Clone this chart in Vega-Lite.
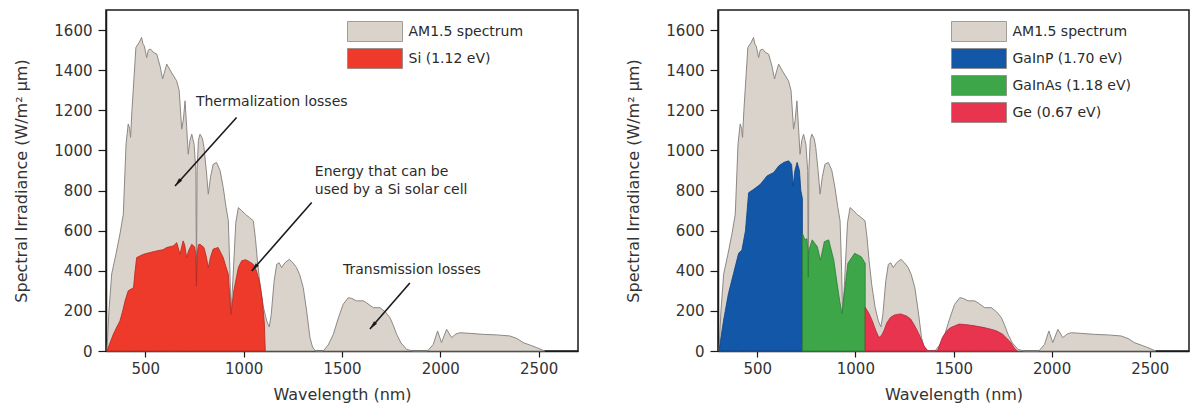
{
  "$schema": "https://vega.github.io/schema/vega-lite/v6.json",
  "padding": {"left": 13, "top": 9, "right": 0, "bottom": 3},
  "background": "white",
  "spacing": 46,
  "datasets": {
    "am15": [
      {"s":"AM1.5 spectrum","nm":305,"v":0},{"s":"AM1.5 spectrum","nm":315,"v":200},{"s":"AM1.5 spectrum","nm":329,"v":384},{"s":"AM1.5 spectrum","nm":350,"v":480},{"s":"AM1.5 spectrum","nm":371,"v":583},{"s":"AM1.5 spectrum","nm":388,"v":682},{"s":"AM1.5 spectrum","nm":402,"v":1032},{"s":"AM1.5 spectrum","nm":413,"v":1132},{"s":"AM1.5 spectrum","nm":420,"v":1110},{"s":"AM1.5 spectrum","nm":425,"v":1065},{"s":"AM1.5 spectrum","nm":432,"v":1200},{"s":"AM1.5 spectrum","nm":452,"v":1513},{"s":"AM1.5 spectrum","nm":470,"v":1540},{"s":"AM1.5 spectrum","nm":481,"v":1563},{"s":"AM1.5 spectrum","nm":488,"v":1530},{"s":"AM1.5 spectrum","nm":495,"v":1520},{"s":"AM1.5 spectrum","nm":507,"v":1463},{"s":"AM1.5 spectrum","nm":515,"v":1500},{"s":"AM1.5 spectrum","nm":527,"v":1505},{"s":"AM1.5 spectrum","nm":540,"v":1490},{"s":"AM1.5 spectrum","nm":558,"v":1480},{"s":"AM1.5 spectrum","nm":575,"v":1420},{"s":"AM1.5 spectrum","nm":588,"v":1356},{"s":"AM1.5 spectrum","nm":600,"v":1400},{"s":"AM1.5 spectrum","nm":609,"v":1430},{"s":"AM1.5 spectrum","nm":632,"v":1390},{"s":"AM1.5 spectrum","nm":659,"v":1347},{"s":"AM1.5 spectrum","nm":672,"v":1300},{"s":"AM1.5 spectrum","nm":685,"v":1106},{"s":"AM1.5 spectrum","nm":693,"v":1150},{"s":"AM1.5 spectrum","nm":702,"v":1247},{"s":"AM1.5 spectrum","nm":710,"v":1120},{"s":"AM1.5 spectrum","nm":718,"v":981},{"s":"AM1.5 spectrum","nm":727,"v":1050},{"s":"AM1.5 spectrum","nm":736,"v":1081},{"s":"AM1.5 spectrum","nm":748,"v":1030},{"s":"AM1.5 spectrum","nm":757,"v":900},{"s":"AM1.5 spectrum","nm":760,"v":320},{"s":"AM1.5 spectrum","nm":763,"v":900},{"s":"AM1.5 spectrum","nm":770,"v":1050},{"s":"AM1.5 spectrum","nm":778,"v":1081},{"s":"AM1.5 spectrum","nm":790,"v":1060},{"s":"AM1.5 spectrum","nm":798,"v":1015},{"s":"AM1.5 spectrum","nm":810,"v":900},{"s":"AM1.5 spectrum","nm":820,"v":782},{"s":"AM1.5 spectrum","nm":832,"v":870},{"s":"AM1.5 spectrum","nm":845,"v":931},{"s":"AM1.5 spectrum","nm":862,"v":940},{"s":"AM1.5 spectrum","nm":880,"v":900},{"s":"AM1.5 spectrum","nm":896,"v":815},{"s":"AM1.5 spectrum","nm":910,"v":720},{"s":"AM1.5 spectrum","nm":922,"v":649},{"s":"AM1.5 spectrum","nm":930,"v":400},{"s":"AM1.5 spectrum","nm":935,"v":183},{"s":"AM1.5 spectrum","nm":945,"v":350},{"s":"AM1.5 spectrum","nm":960,"v":640},{"s":"AM1.5 spectrum","nm":973,"v":715},{"s":"AM1.5 spectrum","nm":990,"v":700},{"s":"AM1.5 spectrum","nm":1010,"v":680},{"s":"AM1.5 spectrum","nm":1030,"v":665},{"s":"AM1.5 spectrum","nm":1049,"v":649},{"s":"AM1.5 spectrum","nm":1060,"v":560},{"s":"AM1.5 spectrum","nm":1070,"v":450},{"s":"AM1.5 spectrum","nm":1083,"v":333},{"s":"AM1.5 spectrum","nm":1100,"v":220},{"s":"AM1.5 spectrum","nm":1117,"v":150},{"s":"AM1.5 spectrum","nm":1130,"v":120},{"s":"AM1.5 spectrum","nm":1140,"v":180},{"s":"AM1.5 spectrum","nm":1155,"v":350},{"s":"AM1.5 spectrum","nm":1168,"v":432},{"s":"AM1.5 spectrum","nm":1180,"v":440},{"s":"AM1.5 spectrum","nm":1193,"v":416},{"s":"AM1.5 spectrum","nm":1210,"v":440},{"s":"AM1.5 spectrum","nm":1232,"v":457},{"s":"AM1.5 spectrum","nm":1250,"v":440},{"s":"AM1.5 spectrum","nm":1269,"v":416},{"s":"AM1.5 spectrum","nm":1285,"v":380},{"s":"AM1.5 spectrum","nm":1303,"v":316},{"s":"AM1.5 spectrum","nm":1320,"v":200},{"s":"AM1.5 spectrum","nm":1337,"v":67},{"s":"AM1.5 spectrum","nm":1350,"v":20},{"s":"AM1.5 spectrum","nm":1365,"v":0},{"s":"AM1.5 spectrum","nm":1405,"v":0},{"s":"AM1.5 spectrum","nm":1430,"v":30},{"s":"AM1.5 spectrum","nm":1456,"v":83},{"s":"AM1.5 spectrum","nm":1480,"v":160},{"s":"AM1.5 spectrum","nm":1506,"v":233},{"s":"AM1.5 spectrum","nm":1532,"v":266},{"s":"AM1.5 spectrum","nm":1550,"v":262},{"s":"AM1.5 spectrum","nm":1574,"v":250},{"s":"AM1.5 spectrum","nm":1608,"v":250},{"s":"AM1.5 spectrum","nm":1625,"v":240},{"s":"AM1.5 spectrum","nm":1659,"v":216},{"s":"AM1.5 spectrum","nm":1693,"v":216},{"s":"AM1.5 spectrum","nm":1720,"v":195},{"s":"AM1.5 spectrum","nm":1744,"v":166},{"s":"AM1.5 spectrum","nm":1760,"v":130},{"s":"AM1.5 spectrum","nm":1778,"v":83},{"s":"AM1.5 spectrum","nm":1800,"v":40},{"s":"AM1.5 spectrum","nm":1829,"v":8},{"s":"AM1.5 spectrum","nm":1860,"v":0},{"s":"AM1.5 spectrum","nm":1935,"v":0},{"s":"AM1.5 spectrum","nm":1964,"v":33},{"s":"AM1.5 spectrum","nm":1986,"v":100},{"s":"AM1.5 spectrum","nm":2006,"v":42},{"s":"AM1.5 spectrum","nm":2032,"v":108},{"s":"AM1.5 spectrum","nm":2057,"v":67},{"s":"AM1.5 spectrum","nm":2080,"v":85},{"s":"AM1.5 spectrum","nm":2100,"v":91},{"s":"AM1.5 spectrum","nm":2150,"v":88},{"s":"AM1.5 spectrum","nm":2218,"v":83},{"s":"AM1.5 spectrum","nm":2290,"v":80},{"s":"AM1.5 spectrum","nm":2354,"v":75},{"s":"AM1.5 spectrum","nm":2390,"v":62},{"s":"AM1.5 spectrum","nm":2421,"v":42},{"s":"AM1.5 spectrum","nm":2460,"v":28},{"s":"AM1.5 spectrum","nm":2490,"v":17},{"s":"AM1.5 spectrum","nm":2530,"v":0}
    ],
    "si": [
      {"s":"Si (1.12 eV)","nm":305,"v":0},{"s":"Si (1.12 eV)","nm":320,"v":40},{"s":"Si (1.12 eV)","nm":337,"v":83},{"s":"Si (1.12 eV)","nm":355,"v":120},{"s":"Si (1.12 eV)","nm":371,"v":150},{"s":"Si (1.12 eV)","nm":385,"v":200},{"s":"Si (1.12 eV)","nm":397,"v":250},{"s":"Si (1.12 eV)","nm":413,"v":300},{"s":"Si (1.12 eV)","nm":430,"v":310},{"s":"Si (1.12 eV)","nm":440,"v":316},{"s":"Si (1.12 eV)","nm":448,"v":400},{"s":"Si (1.12 eV)","nm":456,"v":466},{"s":"Si (1.12 eV)","nm":490,"v":482},{"s":"Si (1.12 eV)","nm":520,"v":490},{"s":"Si (1.12 eV)","nm":558,"v":499},{"s":"Si (1.12 eV)","nm":590,"v":505},{"s":"Si (1.12 eV)","nm":609,"v":516},{"s":"Si (1.12 eV)","nm":642,"v":524},{"s":"Si (1.12 eV)","nm":660,"v":540},{"s":"Si (1.12 eV)","nm":676,"v":482},{"s":"Si (1.12 eV)","nm":692,"v":549},{"s":"Si (1.12 eV)","nm":700,"v":530},{"s":"Si (1.12 eV)","nm":710,"v":466},{"s":"Si (1.12 eV)","nm":720,"v":500},{"s":"Si (1.12 eV)","nm":736,"v":532},{"s":"Si (1.12 eV)","nm":750,"v":520},{"s":"Si (1.12 eV)","nm":757,"v":480},{"s":"Si (1.12 eV)","nm":760,"v":324},{"s":"Si (1.12 eV)","nm":763,"v":480},{"s":"Si (1.12 eV)","nm":770,"v":530},{"s":"Si (1.12 eV)","nm":778,"v":532},{"s":"Si (1.12 eV)","nm":798,"v":516},{"s":"Si (1.12 eV)","nm":810,"v":470},{"s":"Si (1.12 eV)","nm":820,"v":416},{"s":"Si (1.12 eV)","nm":832,"v":470},{"s":"Si (1.12 eV)","nm":845,"v":508},{"s":"Si (1.12 eV)","nm":870,"v":516},{"s":"Si (1.12 eV)","nm":896,"v":466},{"s":"Si (1.12 eV)","nm":910,"v":420},{"s":"Si (1.12 eV)","nm":922,"v":383},{"s":"Si (1.12 eV)","nm":935,"v":183},{"s":"Si (1.12 eV)","nm":950,"v":300},{"s":"Si (1.12 eV)","nm":973,"v":416},{"s":"Si (1.12 eV)","nm":990,"v":450},{"s":"Si (1.12 eV)","nm":1010,"v":455},{"s":"Si (1.12 eV)","nm":1030,"v":445},{"s":"Si (1.12 eV)","nm":1049,"v":432},{"s":"Si (1.12 eV)","nm":1065,"v":400},{"s":"Si (1.12 eV)","nm":1083,"v":333},{"s":"Si (1.12 eV)","nm":1095,"v":250},{"s":"Si (1.12 eV)","nm":1105,"v":140},{"s":"Si (1.12 eV)","nm":1110,"v":0}
    ],
    "mj": [
      {"s":"GaInP (1.70 eV)","nm":305,"v":0},{"s":"GaInP (1.70 eV)","nm":328,"v":151},{"s":"GaInP (1.70 eV)","nm":353,"v":285},{"s":"GaInP (1.70 eV)","nm":379,"v":386},{"s":"GaInP (1.70 eV)","nm":405,"v":487},{"s":"GaInP (1.70 eV)","nm":422,"v":504},{"s":"GaInP (1.70 eV)","nm":440,"v":600},{"s":"GaInP (1.70 eV)","nm":456,"v":789},{"s":"GaInP (1.70 eV)","nm":482,"v":806},{"s":"GaInP (1.70 eV)","nm":516,"v":831},{"s":"GaInP (1.70 eV)","nm":550,"v":873},{"s":"GaInP (1.70 eV)","nm":584,"v":890},{"s":"GaInP (1.70 eV)","nm":610,"v":923},{"s":"GaInP (1.70 eV)","nm":635,"v":940},{"s":"GaInP (1.70 eV)","nm":660,"v":948},{"s":"GaInP (1.70 eV)","nm":675,"v":930},{"s":"GaInP (1.70 eV)","nm":683,"v":822},{"s":"GaInP (1.70 eV)","nm":692,"v":900},{"s":"GaInP (1.70 eV)","nm":703,"v":940},{"s":"GaInP (1.70 eV)","nm":715,"v":900},{"s":"GaInP (1.70 eV)","nm":722,"v":800},{"s":"GaInP (1.70 eV)","nm":730,"v":760},
      {"s":"GaInAs (1.18 eV)","nm":730,"v":587},{"s":"GaInAs (1.18 eV)","nm":743,"v":554},{"s":"GaInAs (1.18 eV)","nm":753,"v":560},{"s":"GaInAs (1.18 eV)","nm":758,"v":500},{"s":"GaInAs (1.18 eV)","nm":760,"v":369},{"s":"GaInAs (1.18 eV)","nm":762,"v":500},{"s":"GaInAs (1.18 eV)","nm":780,"v":554},{"s":"GaInAs (1.18 eV)","nm":806,"v":520},{"s":"GaInAs (1.18 eV)","nm":822,"v":453},{"s":"GaInAs (1.18 eV)","nm":842,"v":545},{"s":"GaInAs (1.18 eV)","nm":864,"v":554},{"s":"GaInAs (1.18 eV)","nm":890,"v":453},{"s":"GaInAs (1.18 eV)","nm":907,"v":336},{"s":"GaInAs (1.18 eV)","nm":920,"v":250},{"s":"GaInAs (1.18 eV)","nm":932,"v":185},{"s":"GaInAs (1.18 eV)","nm":945,"v":300},{"s":"GaInAs (1.18 eV)","nm":962,"v":437},{"s":"GaInAs (1.18 eV)","nm":996,"v":487},{"s":"GaInAs (1.18 eV)","nm":1030,"v":470},{"s":"GaInAs (1.18 eV)","nm":1050,"v":437},
      {"s":"Ge (0.67 eV)","nm":1050,"v":218},{"s":"Ge (0.67 eV)","nm":1068,"v":190},{"s":"Ge (0.67 eV)","nm":1086,"v":151},{"s":"Ge (0.67 eV)","nm":1105,"v":100},{"s":"Ge (0.67 eV)","nm":1120,"v":67},{"s":"Ge (0.67 eV)","nm":1135,"v":80},{"s":"Ge (0.67 eV)","nm":1145,"v":100},{"s":"Ge (0.67 eV)","nm":1160,"v":140},{"s":"Ge (0.67 eV)","nm":1179,"v":168},{"s":"Ge (0.67 eV)","nm":1200,"v":180},{"s":"Ge (0.67 eV)","nm":1230,"v":185},{"s":"Ge (0.67 eV)","nm":1260,"v":175},{"s":"Ge (0.67 eV)","nm":1282,"v":159},{"s":"Ge (0.67 eV)","nm":1300,"v":130},{"s":"Ge (0.67 eV)","nm":1316,"v":101},{"s":"Ge (0.67 eV)","nm":1335,"v":60},{"s":"Ge (0.67 eV)","nm":1350,"v":25},{"s":"Ge (0.67 eV)","nm":1370,"v":0},{"s":"Ge (0.67 eV)","nm":1418,"v":0},{"s":"Ge (0.67 eV)","nm":1443,"v":67},{"s":"Ge (0.67 eV)","nm":1465,"v":100},{"s":"Ge (0.67 eV)","nm":1486,"v":117},{"s":"Ge (0.67 eV)","nm":1528,"v":134},{"s":"Ge (0.67 eV)","nm":1560,"v":132},{"s":"Ge (0.67 eV)","nm":1605,"v":126},{"s":"Ge (0.67 eV)","nm":1650,"v":118},{"s":"Ge (0.67 eV)","nm":1690,"v":109},{"s":"Ge (0.67 eV)","nm":1720,"v":100},{"s":"Ge (0.67 eV)","nm":1750,"v":84},{"s":"Ge (0.67 eV)","nm":1770,"v":65},{"s":"Ge (0.67 eV)","nm":1792,"v":42},{"s":"Ge (0.67 eV)","nm":1810,"v":15},{"s":"Ge (0.67 eV)","nm":1825,"v":0}
    ],
    "notes": [
      {"t":"Thermalization losses","nm":757,"v":1277},
      {"t":"Energy that can be\nused by a Si solar cell","nm":1362,"v":928},
      {"t":"Transmission losses","nm":1505,"v":439}
    ],
    "arrows": [
      {"nm":964,"v":1164,"nm2":651,"v2":823},
      {"nm":1346,"v":740,"nm2":1041,"v2":399},
      {"nm":1845,"v":339,"nm2":1642,"v2":110}
    ]
  },
  "resolve": {"scale": {"color": "independent", "stroke": "independent"}, "legend": {"color": "independent"}},
  "hconcat": [
    {
      "width": 472,
      "height": 341,
      "encoding": {
        "x": {"field": "nm", "type": "quantitative", "scale": {"domain": [300, 2700], "nice": false, "zero": false}, "axis": {"values": [500, 1000, 1500, 2000, 2500], "format": "d", "title": "Wavelength (nm)"}},
        "y": {"field": "v", "type": "quantitative", "scale": {"domain": [0, 1700], "nice": false}, "axis": {"values": [0, 200, 400, 600, 800, 1000, 1200, 1400, 1600], "format": "d", "title": "Spectral Irradiance (W/m² µm)"}}
      },
      "layer": [
        {
          "data": {"name": "am15"},
          "mark": {"type": "area", "stroke": "#8d8883", "strokeWidth": 1},
          "encoding": {
            "y": {"field": "v", "type": "quantitative", "stack": null},
            "color": {"field": "s", "type": "nominal", "scale": {"domain": ["AM1.5 spectrum", "Si (1.12 eV)"], "range": ["#d9d3cc", "#ee3a2b"]}, "legend": {"orient": "none", "legendX": 241, "legendY": 11}}
          }
        },
        {
          "data": {"name": "si"},
          "mark": {"type": "area", "stroke": "#b8241b", "strokeWidth": 0.8},
          "encoding": {
            "y": {"field": "v", "type": "quantitative", "stack": null},
            "color": {"field": "s", "type": "nominal", "scale": {"domain": ["AM1.5 spectrum", "Si (1.12 eV)"], "range": ["#d9d3cc", "#ee3a2b"]}, "legend": {"orient": "none", "legendX": 241, "legendY": 11}}
          }
        },
        {
          "data": {"name": "arrows"},
          "mark": {"type": "rule", "color": "#1a1a1a", "strokeWidth": 1.6},
          "encoding": {
            "x2": {"field": "nm2"},
            "y2": {"field": "v2"}
          }
        },
        {
          "data": {"name": "arrows"},
          "mark": {"type": "point", "shape": "M0,0L0.4,1.7L-0.4,1.7Z", "angle": 221, "filled": true, "color": "#1a1a1a", "opacity": 1, "size": 100},
          "encoding": {
            "x": {"field": "nm2", "type": "quantitative"},
            "y": {"field": "v2", "type": "quantitative"}
          }
        },
        {
          "data": {"name": "notes"},
          "mark": {"type": "text", "align": "left", "baseline": "top", "font": "DejaVu Sans", "fontSize": 14, "color": "#2b2b2b", "lineBreak": "\n", "lineHeight": 18},
          "encoding": {
            "text": {"field": "t"}
          }
        }
      ]
    },
    {
      "width": 471,
      "height": 341,
      "encoding": {
        "x": {"field": "nm", "type": "quantitative", "scale": {"domain": [300, 2700], "nice": false, "zero": false}, "axis": {"values": [500, 1000, 1500, 2000, 2500], "format": "d", "title": "Wavelength (nm)"}},
        "y": {"field": "v", "type": "quantitative", "scale": {"domain": [0, 1700], "nice": false}, "axis": {"values": [0, 200, 400, 600, 800, 1000, 1200, 1400, 1600], "format": "d", "title": "Spectral Irradiance (W/m² µm)"}}
      },
      "layer": [
        {
          "data": {"name": "am15"},
          "mark": {"type": "area", "stroke": "#8d8883", "strokeWidth": 1},
          "encoding": {
            "y": {"field": "v", "type": "quantitative", "stack": null},
            "color": {"field": "s", "type": "nominal", "scale": {"domain": ["AM1.5 spectrum", "GaInP (1.70 eV)", "GaInAs (1.18 eV)", "Ge (0.67 eV)"], "range": ["#d9d3cc", "#1257a8", "#3ca648", "#e8344f"]}, "legend": {"orient": "none", "legendX": 233, "legendY": 11}}
          }
        },
        {
          "data": {"name": "mj"},
          "mark": {"type": "area", "strokeWidth": 0.8},
          "encoding": {
            "y": {"field": "v", "type": "quantitative", "stack": null},
            "color": {"field": "s", "type": "nominal", "scale": {"domain": ["AM1.5 spectrum", "GaInP (1.70 eV)", "GaInAs (1.18 eV)", "Ge (0.67 eV)"], "range": ["#d9d3cc", "#1257a8", "#3ca648", "#e8344f"]}, "legend": {"orient": "none", "legendX": 233, "legendY": 11}},
            "stroke": {"field": "s", "type": "nominal", "scale": {"domain": ["GaInP (1.70 eV)", "GaInAs (1.18 eV)", "Ge (0.67 eV)"], "range": ["#0c3f80", "#2a7d35", "#b82238"]}, "legend": null}
          }
        }
      ]
    }
  ],
  "config": {
    "font": "DejaVu Sans",
    "view": {"stroke": "#1a1a1a", "strokeWidth": 1.5},
    "axis": {"grid": false, "domainColor": "#1a1a1a", "domainWidth": 1.5, "tickColor": "#1a1a1a", "tickWidth": 1.2, "tickSize": 6, "labelFont": "DejaVu Sans", "labelFontSize": 15, "labelColor": "#333333", "labelPadding": 4, "labelFlush": false, "labelOverlap": false, "titleFont": "DejaVu Sans", "titleFontSize": 16, "titleFontWeight": "normal", "titleColor": "#333333"},
    "axisX": {"titlePadding": 10},
    "axisY": {"titlePadding": 24, "tickSize": 8, "labelPadding": 6},
    "legend": {"title": null, "symbolType": "M-2.75,-1H2.75V1H-2.75Z", "symbolSize": 400, "symbolOffset": 17.5, "symbolStrokeColor": "#8d8883", "symbolStrokeWidth": 0.8, "symbolOpacity": 1, "labelFont": "DejaVu Sans", "labelFontSize": 14, "labelColor": "#2b2b2b", "labelOffset": 23, "rowPadding": 2, "padding": 0}
  }
}
